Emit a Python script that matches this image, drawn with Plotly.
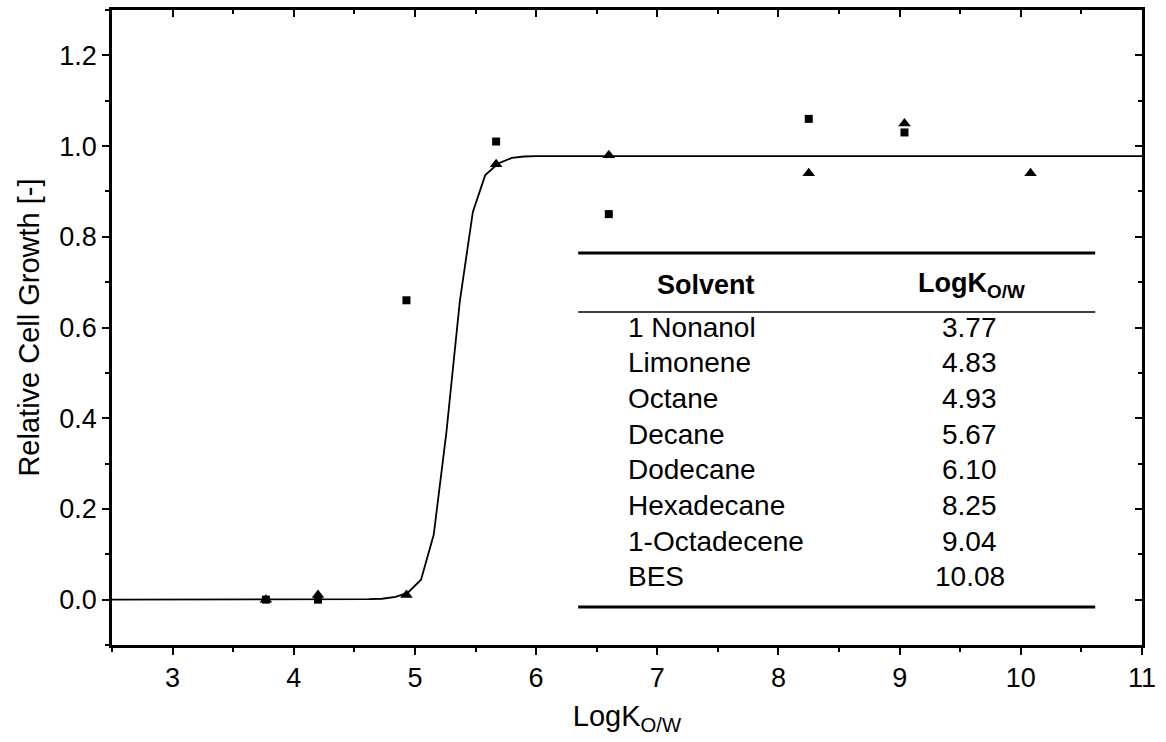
import plotly.graph_objects as go

# ---- data ----
sq_x = [3.77, 4.20, 4.93, 5.67, 6.60, 8.25, 9.04]
sq_y = [0.00, 0.00, 0.66, 1.01, 0.85, 1.06, 1.03]

tri_x = [3.77, 4.20, 4.93, 5.67, 6.60, 8.25, 9.04, 10.08]
tri_y = [0.00, 0.01, 0.01, 0.96, 0.98, 0.94, 1.05, 0.94]

fit_x = [2.50, 3.50, 4.50, 4.62, 4.73, 4.84, 4.94, 5.05, 5.155, 5.26, 5.37, 5.478, 5.58, 5.69, 5.80, 5.90, 6.00, 7.00, 9.00, 11.00]
fit_y = [0.000, 0.000, 0.000, 0.001, 0.002, 0.006, 0.015, 0.044, 0.143, 0.370, 0.657, 0.855, 0.936, 0.962, 0.974, 0.977, 0.978, 0.978, 0.978, 0.978]

solvents = ["1 Nonanol", "Limonene", "Octane", "Decane", "Dodecane", "Hexadecane", "1-Octadecene", "BES"]
logk_labels = ["3.77", "4.83", "4.93", "5.67", "6.10", "8.25", "9.04", "10.08"]

x_ticks = [3, 4, 5, 6, 7, 8, 9, 10, 11]
y_ticks = [0.0, 0.2, 0.4, 0.6, 0.8, 1.0, 1.2]

FONT = "Liberation Sans, Arial, sans-serif"
FS_TICK = 27
FS_TITLE = 29
FS_TAB = 28
FS_HEAD = 27

fig = go.Figure()
fig.add_trace(go.Scatter(x=fit_x, y=fit_y, mode="lines",
                         line=dict(color="black", width=1.8), showlegend=False, hoverinfo="skip"))
fig.add_trace(go.Scatter(x=sq_x, y=sq_y, mode="markers",
                         marker=dict(symbol="square", size=8, color="black"), showlegend=False))
fig.add_trace(go.Scatter(x=tri_x, y=tri_y, mode="markers",
                         marker=dict(symbol="triangle-up", size=11, color="black"), showlegend=False))
# dummy trace to activate mirror axes
fig.add_trace(go.Scatter(x=[None], y=[None], xaxis="x2", yaxis="y2", showlegend=False))

xr = [2.5, 11]
yr = [-0.1, 1.3]

common = dict(showgrid=False, zeroline=False, showline=True, linecolor="black", linewidth=2.5,
              tickcolor="black", tickwidth=2, ticklen=7,
              tickfont=dict(family=FONT, size=FS_TICK, color="black"))

fig.update_layout(
    width=1166, height=742,
    margin=dict(l=112, r=20, t=10, b=97),
    paper_bgcolor="white", plot_bgcolor="white",
    font=dict(family=FONT, size=FS_TICK, color="black"),
    xaxis=dict(range=xr, tickvals=x_ticks, ticktext=[str(v) for v in x_ticks], ticks="outside",
               minor=dict(ticks="outside", dtick=0.5, tick0=2.5, ticklen=4, tickwidth=2, tickcolor="black"),
               title=dict(text="LogK<sub>O/W</sub>", font=dict(family=FONT, size=FS_TITLE), standoff=14),
               **common),
    yaxis=dict(range=yr, tickvals=y_ticks, ticktext=[f"{v:.1f}" for v in y_ticks], ticks="outside",
               minor=dict(ticks="outside", dtick=0.1, tick0=-0.1, ticklen=4, tickwidth=2, tickcolor="black"),
               title=dict(text="Relative Cell Growth [-]", font=dict(family=FONT, size=FS_TITLE), standoff=12),
               **common),
    xaxis2=dict(range=xr, overlaying="x", side="top", anchor="y", tickvals=x_ticks, ticks="inside",
                showticklabels=False,
                minor=dict(ticks="inside", dtick=0.5, tick0=2.5, ticklen=4, tickwidth=2, tickcolor="black"),
                **common),
    yaxis2=dict(range=yr, overlaying="y", side="right", anchor="x", tickvals=y_ticks, ticks="inside",
                showticklabels=False,
                minor=dict(ticks="inside", dtick=0.1, tick0=-0.1, ticklen=4, tickwidth=2, tickcolor="black"),
                **common),
)

# ---- inset table (paper coordinates) ----
PX0, PW, PY0, PH = 112, 1034, 645, 635
def px(x):
    return (x - PX0) / PW
def py(y):
    return (PY0 - y) / PH

x_left, x_right = px(580), px(1099)
fig.add_shape(type="line", xref="paper", yref="paper", x0=x_left, x1=x_right, y0=py(253), y1=py(253),
              line=dict(color="black", width=3))
fig.add_shape(type="line", xref="paper", yref="paper", x0=x_left, x1=x_right, y0=py(312), y1=py(312),
              line=dict(color="black", width=1.5))
fig.add_shape(type="line", xref="paper", yref="paper", x0=x_left, x1=x_right, y0=py(607), y1=py(607),
              line=dict(color="black", width=3))

fig.add_annotation(xref="paper", yref="paper", x=px(708), y=py(285), text="<b>Solvent</b>",
                   showarrow=False, xanchor="center", yanchor="middle", font=dict(family=FONT, size=FS_HEAD))
fig.add_annotation(xref="paper", yref="paper", x=px(975), y=py(285), text="<b>LogK<sub>O/W</sub></b>",
                   showarrow=False, xanchor="center", yanchor="middle", font=dict(family=FONT, size=FS_HEAD))

for i, (s, k) in enumerate(zip(solvents, logk_labels)):
    yy = py(327 + 35.7 * i)
    fig.add_annotation(xref="paper", yref="paper", x=px(628), y=yy, text=s, showarrow=False,
                       xanchor="left", yanchor="middle", font=dict(family=FONT, size=FS_TAB))
    fig.add_annotation(xref="paper", yref="paper", x=px(973), y=yy, text=k, showarrow=False,
                       xanchor="center", yanchor="middle", font=dict(family=FONT, size=FS_TAB))

fig.write_html("out.html")
